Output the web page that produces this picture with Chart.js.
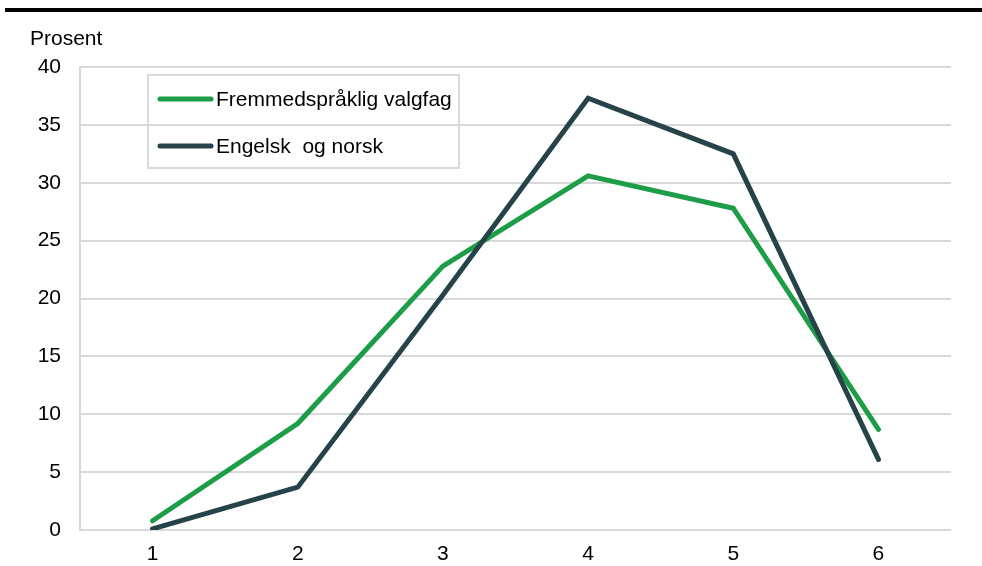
<!DOCTYPE html>
<html lang="no">
<head>
<meta charset="UTF-8">
<title>Karakterfordeling</title>
<script src="https://cdn.jsdelivr.net/npm/chart.js"></script>
<style>
  html, body { margin: 0; padding: 0; background: #fff; }
  #wrap { width: 982px; height: 566px; position: relative; }
</style>
</head>
<body>
<div id="wrap"><canvas id="graf"></canvas></div>
<script>
// karakterer 1-6
const karakterer = ["1", "2", "3", "4", "5", "6"]
const yTicks = [0, 5, 10, 15, 20, 25, 30, 35, 40]
const fremmedsprak = [0.8, 9.2, 22.8, 30.6, 27.8, 8.7]
const engelskNorsk = [0.1, 3.7, 20.3, 37.3, 32.5, 6.1]

const serieNavn = ["Fremmedspråklig valgfag", "Engelsk  og norsk"]
const gronn = '#1e9d48'
const mork = '#26434a'
const grid = '#d9d9d9'
const font = 'Liberation Sans, Arial, sans-serif'

// tegner strek øverst, aksetittel og legenden med ramme
const ekstra = {
  id: 'ekstra',
  afterDraw(chart) {
    const c = chart.ctx
    c.save()
    c.fillStyle = '#000'
    c.fillRect(5, 8, 977, 4)

    c.font = '21px ' + font
    c.textBaseline = 'alphabetic'
    c.textAlign = 'left'
    c.fillText('Prosent', 30, 45)

    // legende
    c.strokeStyle = grid
    c.lineWidth = 2
    c.strokeRect(148, 75, 311, 93)
    chart.data.datasets.forEach((ds, i) => {
      const y = 99 + i * 47
      c.strokeStyle = ds.borderColor
      c.lineWidth = 5
      c.lineCap = 'round'
      c.beginPath()
      c.moveTo(160, y)
      c.lineTo(211, y)
      c.stroke()
      c.fillStyle = '#000'
      c.textBaseline = 'middle'
      c.fillText(ds.label, 216, y + 1)
    })
    c.restore()
  }
}

new Chart(document.getElementById('graf'), {
  type: 'line',
  data: {
    labels: karakterer,
    datasets: [
      { label: serieNavn[0], data: fremmedsprak, borderColor: gronn, backgroundColor: gronn, order: 2 },
      { label: serieNavn[1], data: engelskNorsk, borderColor: mork, backgroundColor: mork, order: 1 }
    ]
  },
  options: {
    responsive: true,
    maintainAspectRatio: false,
    animation: false,
    elements: {
      line: { borderWidth: 5, tension: 0, borderCapStyle: 'round', borderJoinStyle: 'miter' },
      point: { radius: 0, hoverRadius: 0 }
    },
    layout: { padding: { top: 67, right: 31, bottom: 0, left: 0 } },
    plugins: { legend: { display: false }, tooltip: { enabled: false } },
    scales: {
      x: {
        offset: true,
        grid: { display: false, drawTicks: false },
        border: { display: false },
        ticks: { color: '#000', font: { family: font, size: 21 }, padding: 12, maxRotation: 0 },
        afterFit(s) { s.height = 36 }
      },
      y: {
        min: 0,
        max: 40,
        afterBuildTicks(s) { s.ticks = yTicks.map(v => ({ value: v })) },
        grid: { color: grid, lineWidth: 2, drawTicks: false },
        border: { display: true, color: grid, width: 2 },
        ticks: { color: '#000', font: { family: font, size: 21 }, padding: 19 },
        afterFit(s) { s.width = 80 }
      }
    }
  },
  plugins: [ekstra]
})
</script>
</body>
</html>
